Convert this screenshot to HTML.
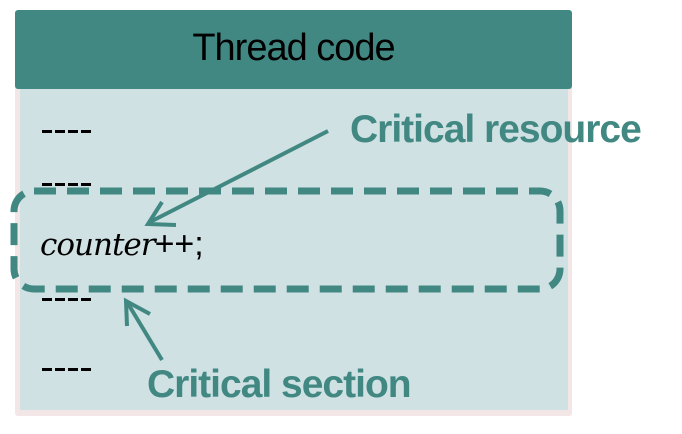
<!DOCTYPE html>
<html><head><style>
body{margin:0;width:682px;height:434px;background:#fff;position:relative;overflow:hidden;font-family:"Liberation Sans",sans-serif}
.a{position:absolute}
.d{position:absolute;left:42px;width:50px;height:3px;background:repeating-linear-gradient(90deg,#000 0 10px,transparent 10px 13px)}
</style></head><body>
<div class="a" style="left:15px;top:12px;width:557px;height:404px;background:#f3e6e6;border-radius:3px"></div>
<div class="a" style="left:20px;top:88px;width:548px;height:322px;background:#d0e1e3"></div>
<div class="a" style="left:15px;top:10px;width:557px;height:79px;background:#418883;border-radius:3px"></div>
<div class="a" style="left:0;top:26px;width:587px;text-align:center;font-size:38px;line-height:44px;color:#000;letter-spacing:-1px">Thread code</div>
<div class="d" style="top:130px"></div>
<div class="d" style="top:183px"></div>
<div class="d" style="top:298px"></div>
<div class="d" style="top:368px"></div>
<div class="a" style="left:40px;top:224px;font-size:34px;line-height:40px"><i style="font-family:'DejaVu Serif','Liberation Serif',serif;font-size:31px;letter-spacing:-1px">counter</i>++;</div>
<svg class="a" style="left:0;top:0" width="682" height="434">
<rect x="14" y="191" width="546" height="98" rx="20" fill="none" stroke="#418883" stroke-width="7" stroke-dasharray="22,11"/>
<line x1="328" y1="131" x2="150" y2="222" stroke="#418883" stroke-width="4"/>
<polyline points="162,202 148,224 176,225" fill="none" stroke="#418883" stroke-width="4"/>
<line x1="162" y1="360" x2="127" y2="302" stroke="#418883" stroke-width="4"/>
<polyline points="127,326 126,301 150,314" fill="none" stroke="#418883" stroke-width="4"/>
</svg>
<div class="a" style="left:350px;top:108px;font-size:39px;line-height:44px;font-weight:bold;color:#418883;letter-spacing:-1px">Critical resource</div>
<div class="a" style="left:147px;top:363px;font-size:39px;line-height:44px;font-weight:bold;color:#418883;letter-spacing:-1px">Critical section</div>
</body></html>
